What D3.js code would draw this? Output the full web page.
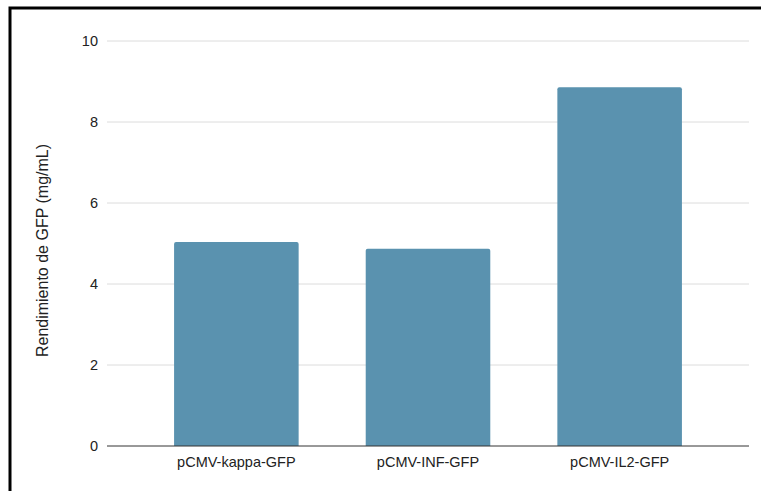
<!DOCTYPE html>
<html>
<head>
<meta charset="utf-8">
<script src="https://cdn.jsdelivr.net/npm/d3@7"></script>
<style>
  html, body { margin: 0; padding: 0; background: #fff; }
  svg { display: block; }
  text { font-family: "Liberation Sans", Arial, sans-serif; }
</style>
</head>
<body>
<div id="chart"></div>
<script>
// GFP yield per construct
const categories = ["pCMV-kappa-GFP", "pCMV-INF-GFP", "pCMV-IL2-GFP"];
const values = [5.04, 4.87, 8.86];
const yTicks = [0, 2, 4, 6, 8, 10];
const yTitle = "Rendimiento de GFP (mg/mL)";

const W = 761, H = 491;
const margin = { left: 107, right: 12, top: 41, bottom: 45 };

const svg = d3.select("#chart").append("svg")
  .attr("width", W).attr("height", H);

// outer frame
svg.append("rect")
  .attr("x", 10).attr("y", 8)
  .attr("width", W + 10).attr("height", H + 10)
  .attr("fill", "#fff")
  .attr("stroke", "#000").attr("stroke-width", 3);

const x = d3.scaleBand()
  .domain(categories)
  .range([margin.left, W - margin.right])
  .padding(0.35);

const y = d3.scaleLinear()
  .domain([0, 10])
  .range([H - margin.bottom, margin.top]);

// horizontal gridlines
svg.append("g")
  .selectAll("line")
  .data(yTicks.filter(d => d !== 0))
  .join("line")
  .attr("x1", margin.left).attr("x2", W - margin.right)
  .attr("y1", d => y(d)).attr("y2", d => y(d))
  .attr("stroke", "#dcdcdc").attr("stroke-width", 1);

// y tick labels
const yAxis = d3.axisLeft(y).tickValues(yTicks).tickSize(0).tickPadding(9);
const gy = svg.append("g")
  .attr("transform", `translate(${margin.left},0)`)
  .call(yAxis);
gy.select(".domain").remove();
gy.selectAll("text")
  .attr("font-size", 14.5)
  .attr("fill", "#222")
  .style("font-family", "'Liberation Sans', Arial, sans-serif");

// bars with slightly rounded tops
const r = 2;
svg.append("g")
  .selectAll("path")
  .data(categories.map((c, i) => ({ c, v: values[i] })))
  .join("path")
  .attr("fill", "#5a92af")
  .attr("d", d => {
    const x0 = x(d.c), x1 = x0 + x.bandwidth();
    const yt = y(d.v), yb = y(0);
    return `M${x0},${yb} V${yt + r} Q${x0},${yt} ${x0 + r},${yt} H${x1 - r} Q${x1},${yt} ${x1},${yt + r} V${yb} Z`;
  });

// baseline
svg.append("line")
  .attr("x1", margin.left).attr("x2", W - margin.right)
  .attr("y1", y(0)).attr("y2", y(0))
  .attr("stroke", "#333").attr("stroke-width", 1);

// x labels
const xAxis = d3.axisBottom(x).tickSize(0).tickPadding(11);
const gx = svg.append("g")
  .attr("transform", `translate(0,${y(0)})`)
  .call(xAxis);
gx.select(".domain").remove();
gx.selectAll("text")
  .attr("font-size", 14.5)
  .attr("fill", "#222")
  .style("font-family", "'Liberation Sans', Arial, sans-serif");

// y axis title
svg.append("text")
  .attr("transform", `translate(48,${(y(0) + y(10)) / 2 + 7}) rotate(-90)`)
  .attr("text-anchor", "middle")
  .attr("font-size", 16)
  .attr("fill", "#222")
  .text(yTitle);
</script>
</body>
</html>
